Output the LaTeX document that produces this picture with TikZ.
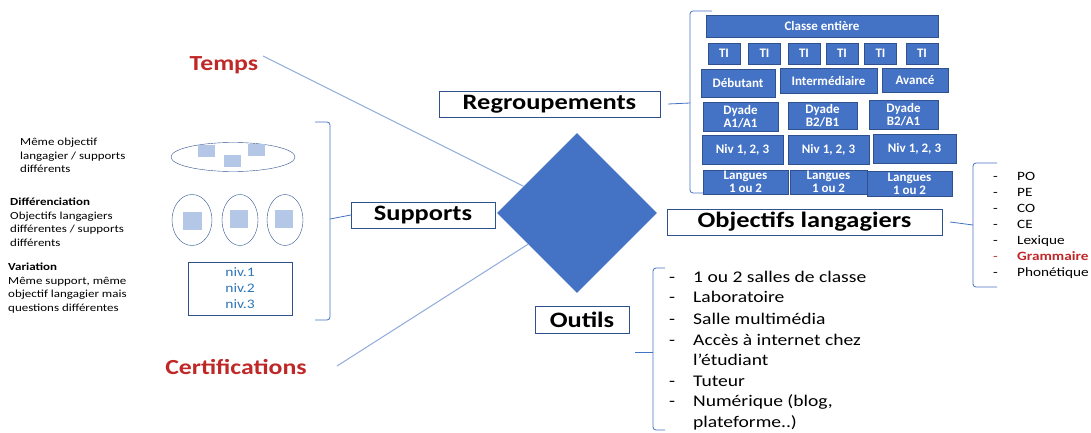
\documentclass[tikz,border=0pt]{standalone}
\usepackage{fontspec}
\setmainfont{Carlito}[FakeStretch=1.2]
\newfontfamily\boitefont{Carlito}
\usetikzlibrary{shapes.geometric}
\definecolor{bleu}{RGB}{68,114,196}
\definecolor{bleufonce}{RGB}{47,82,143}
\definecolor{bleuclair}{RGB}{143,170,220}
\definecolor{bleupale}{RGB}{180,199,231}
\definecolor{rouge}{RGB}{192,40,40}
\definecolor{bleutexte}{RGB}{46,117,182}

\begin{document}
\begin{tikzpicture}[x=1pt,y=-1pt,
  titre/.style={draw=bleufonce,thin,inner sep=0,font=\fontsize{22}{26}\selectfont\bfseries},
  bloc/.style={draw=bleufonce,fill=bleu,text=white,inner sep=0,align=center,
    font=\boitefont\fontsize{13}{13}\selectfont\bfseries},
  rouget/.style={text=rouge,inner sep=0,font=\fontsize{21.5}{26}\selectfont\bfseries},
  lien/.style={bleuclair,line width=1pt},
  acc/.style={bleu,line width=0.8pt,rounded corners=3pt},
  petit/.style={inner sep=0,align=left,anchor=north west,font=\fontsize{10.8}{13.6}\selectfont},
  liste/.style={anchor=west,inner sep=0,text height=12,text depth=3,font=\fontsize{16.3}{18}\selectfont},
  objl/.style={anchor=west,inner sep=0,text height=9.5,text depth=2.5,font=\fontsize{12.7}{14}\selectfont},
  carre/.style={fill=bleupale,inner sep=0,minimum width=17,minimum height=12}]
  \useasboundingbox (0,0) rectangle (1091,433);

  \node (dia) at (577,213) [diamond,fill=bleu,inner sep=0,minimum width=160,minimum height=160] {};

  \node (temps) at (224,65) [rouget] {Temps};
  \node (certif) at (236,367) [rouget] {Certifications};
  \coordinate (t1) at (263,56);
  \coordinate (c1) at (337,366);
  \draw[lien] (t1) -- (dia);
  \draw[lien] (c1) -- (dia);

  \node (regr) at (549.5,104) [titre,minimum width=221,minimum height=26] {Regroupements};
  \node (supp) at (423,215) [titre,minimum width=144,minimum height=26] {Supports};
  \node (obj) at (804.5,222) [titre,minimum width=275,minimum height=26] {Objectifs langagiers};
  \node (outi) at (582,320) [titre,minimum width=94,minimum height=27] {Outils};

  % regroupements
  \draw[acc] (712,11) -- (690,11) -- (690,193) -- (713,193);
  \draw[acc] ([xshift=8]regr.east) -- (690,103);
  \node (ce) at (822,26) [bloc,minimum width=232,minimum height=22] {Classe entière};
  \foreach \x in {724,764.5,804,842,880.5,922}
    \node (ti\x) at (\x,53.5) [bloc,minimum width=32,minimum height=21] {TI};
  \node (deb) at (738,83) [bloc,minimum width=74,minimum height=28] {Débutant};
  \node (inter) at (828.5,80.5) [bloc,minimum width=97,minimum height=25] {Intermédiaire};
  \node (av) at (915,80) [bloc,minimum width=66,minimum height=24] {Avancé};
  \node (d1) at (740.5,116.5) [bloc,minimum width=75,minimum height=29] {Dyade\\A1/A1};
  \node (d2) at (822.5,115.5) [bloc,minimum width=69,minimum height=27] {Dyade\\B2/B1};
  \node (d3) at (903.5,114.5) [bloc,minimum width=69,minimum height=29] {Dyade\\B2/A1};
  \node (n1) at (742.5,149.5) [bloc,minimum width=81,minimum height=29] {Niv 1, 2, 3};
  \node (n2) at (828.5,149.5) [bloc,minimum width=81,minimum height=29] {Niv 1, 2, 3};
  \node (n3) at (914.5,148.5) [bloc,minimum width=83,minimum height=29] {Niv 1, 2, 3};
  \node (l1) at (745.5,182) [bloc,minimum width=85,minimum height=24] {Langues\\1 ou 2};
  \node (l2) at (828.5,182) [bloc,minimum width=77,minimum height=24] {Langues\\1 ou 2};
  \node (l3) at (909.5,183.5) [bloc,minimum width=85,minimum height=25] {Langues\\1 ou 2};

  % objectifs langagiers
  \draw[acc] (997,163) -- (973,163) -- (973,287) -- (997,287);
  \draw[acc] ([xshift=8]obj.east) -- (973,225);
  \foreach \y/\t in {177/PO,193/PE,209/CO,225/CE,241/Lexique,273/Phonétique}{
    \node at (993,\y) [objl] {-};
    \node at (1017,\y) [objl] {\t};
  }
  \node at (993,257) [objl,text=rouge] {-};
  \node (gram) at (1017,257) [objl,text=rouge,font=\fontsize{12.7}{14}\selectfont\bfseries] {Grammaire};

  % outils
  \draw[acc] (665,268) -- (653,268) -- (653,430) -- (665,430);
  \draw[acc] (635,352) -- (653,352);
  \foreach \y in {278,298,320,341,382,402}
    \node at (669,\y) [liste] {-};
  \foreach \y/\t in {278/1 ou 2 salles de classe,298/Laboratoire,320/Salle multimédia,341/Accès à internet chez,361/l’étudiant,382/Tuteur,402/{Numérique (blog,},423/plateforme..)}
    \node at (693,\y) [liste] {\t};

  % supports
  \draw[acc] (315,122) -- (330,122) -- (330,320) -- (315,320);
  \draw[acc] (330,219) -- (supp.west);
  \node (ell) at (233,157) [ellipse,draw=bleufonce,thin,minimum width=124,minimum height=29] {};
  \node at (206.5,151) [carre] {};
  \node at (232,161) [carre] {};
  \node at (256.5,149.5) [carre] {};
  \node (e1) at (192,220) [ellipse,draw=bleufonce,thin,minimum width=40,minimum height=51] {};
  \node (e2) at (240,220) [ellipse,draw=bleufonce,thin,minimum width=36,minimum height=51] {};
  \node (e3) at (285,220) [ellipse,draw=bleufonce,thin,minimum width=36,minimum height=51] {};
  \node at (192.5,221) [carre,minimum width=19,minimum height=18] {};
  \node at (238.5,219) [carre,minimum width=18,minimum height=18] {};
  \node at (284,219) [carre,minimum width=18,minimum height=18] {};
  \node (niv) at (240,288.5) [draw=bleufonce,thin,minimum width=104,minimum height=53,inner sep=0,
    align=center,text=bleutexte,font=\fontsize{13}{16}\selectfont] {niv.1\\niv.2\\niv.3};

  \node at (20,138) [petit] {Même objectif\\langagier / supports\\différents};
  \node at (10,198) [petit] {\textbf{Différenciation}\\Objectifs langagiers\\différentes / supports\\différents};
  \node at (8,263) [petit] {\textbf{Variation}\\Même support, même\\objectif langagier mais\\questions différentes};
\end{tikzpicture}
\end{document}
